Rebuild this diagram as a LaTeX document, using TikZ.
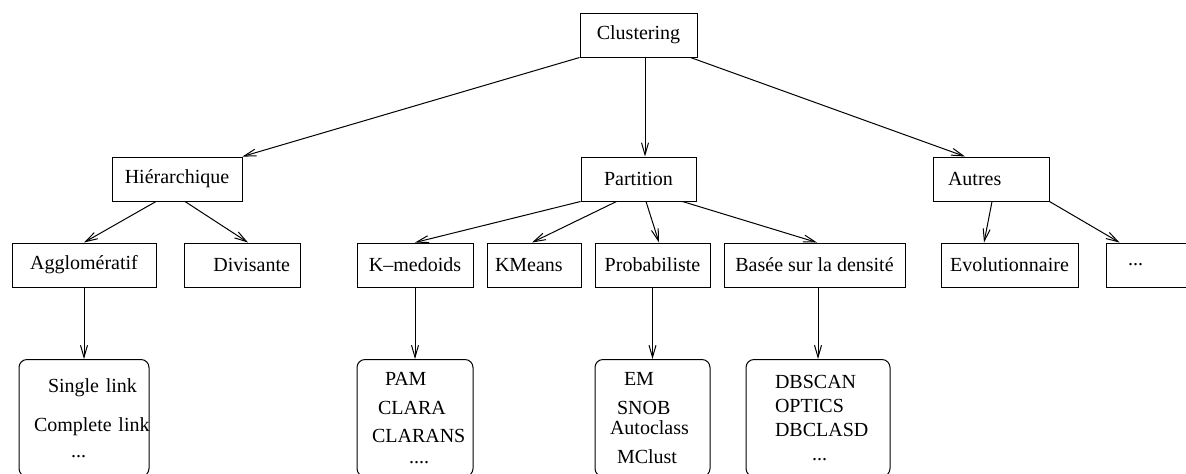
\documentclass[tikz,border=0pt]{standalone}
\usepackage{fontspec}
\setmainfont{Liberation Serif}
\usetikzlibrary{arrows.meta}

\begin{document}
\begin{tikzpicture}[x=0.5pt,y=-0.5pt,
  every node/.style={font=\fontsize{10}{12}\selectfont},
  box/.style={draw=black,line width=0.5pt,inner sep=0pt,minimum height=22pt},
  lst/.style={draw=black,line width=0.5pt,rounded corners=4pt,anchor=north,inner ysep=0pt,minimum height=58.5pt,align=left},
  ar/.style={-{Straight Barb[length=6pt,width=3.5pt]},line width=0.5pt}]
\useasboundingbox (0,0) rectangle (1186,473);
% levels 0 and 1
\node[box,minimum width=58.5pt] (clus) at (638.5,35) {Clustering};
\node[box,minimum width=65pt] (hier) at (177,179) {Hiérarchique};
\node[box,minimum width=57.5pt] (part) at (638.5,179) {Partition};
\node[box,minimum width=58pt,text width=43pt,inner xsep=7.5pt,align=left] (autr) at (991,179) {Autres};
% level 2
\node[box,minimum width=72pt] (aggl) at (84,265) {Agglomératif};
\node[box,minimum width=58pt,text width=48pt,inner xsep=5pt,align=right] (divi) at (242,265) {Divisante};
\node[box,minimum width=58pt] (kmed) at (415,265) {K--medoids};
\node[box,minimum width=47pt,text width=39pt,inner xsep=4pt,align=left] (kmea) at (534,265) {KMeans};
\node[box,minimum width=57.5pt] (prob) at (652.5,265) {Probabiliste};
\node[box,minimum width=90.5pt] (dens) at (814.5,265) {Basée sur la densité};
\node[box,minimum width=68.5pt] (evol) at (1009.5,265) {Evolutionnaire};
\node[box,minimum width=45pt,text width=23pt,inner xsep=11pt,align=left] (etc) at (1151,265) {...};
% algorithm lists
\node[lst,minimum width=65pt,text width=50pt,inner xsep=7.5pt] (lagg) at (84,359)
  {\mbox{\hspace*{7pt}Single link}\\[7.5pt]\mbox{Complete link}\\[1pt]\hspace*{18.5pt}...};
\node[lst,minimum width=58pt,text width=43pt,inner xsep=7.5pt] (lkme) at (415,359)
  {\hspace*{6.5pt}PAM\\[2.5pt]\hspace*{3pt}CLARA\\[2pt]CLARANS\\[-1.5pt]\hspace*{18.5pt}....};
\node[lst,minimum width=57.5pt,text width=42.5pt,inner xsep=7.5pt] (lpro) at (652.5,359)
  {\hspace*{7pt}EM\\[2.5pt]\hspace*{3.5pt}SNOB\\[-2pt]Autoclass\\[2.5pt]\hspace*{3.5pt}MClust};
\node[lst,minimum width=72pt,text width=43pt,inner xsep=14.5pt] (lden) at (818,359)
  {DBSCAN\\OPTICS\\DBCLASD\\\hspace*{18.5pt}...};
% arrows
\draw[ar] (clus.south west) -- (hier.north east);
\draw[ar] ([xshift=3.25pt]clus.south) -- ([xshift=3.25pt]part.north);
\draw[ar] ([xshift=-3.5pt]clus.south east) -- ([xshift=-13pt]autr.north);
\draw[ar] ([xshift=-10.5pt]hier.south) -- (aggl.north);
\draw[ar] ([xshift=4pt]hier.south) -- ([xshift=3pt]divi.north);
\draw[ar] (part.south west) -- (kmed.north);
\draw[ar] ([xshift=-11pt]part.south) -- ([xshift=-1pt]kmea.north);
\draw[ar] ([xshift=3.75pt]part.south) -- ([xshift=3.25pt]prob.north);
\draw[ar] ([xshift=-7pt]part.south east) -- ([xshift=1.25pt]dens.north);
\draw[ar] ([xshift=0.5pt]autr.south) -- ([xshift=-12.75pt]evol.north);
\draw[ar] (autr.south east) -- ([xshift=7pt]etc.north west);
\draw[ar] (aggl.south) -- (lagg.north);
\draw[ar] (kmed.south) -- (lkme.north);
\draw[ar] (prob.south) -- (lpro.north);
\draw[ar] ([xshift=1.75pt]dens.south) -- (lden.north);
\end{tikzpicture}
\end{document}
